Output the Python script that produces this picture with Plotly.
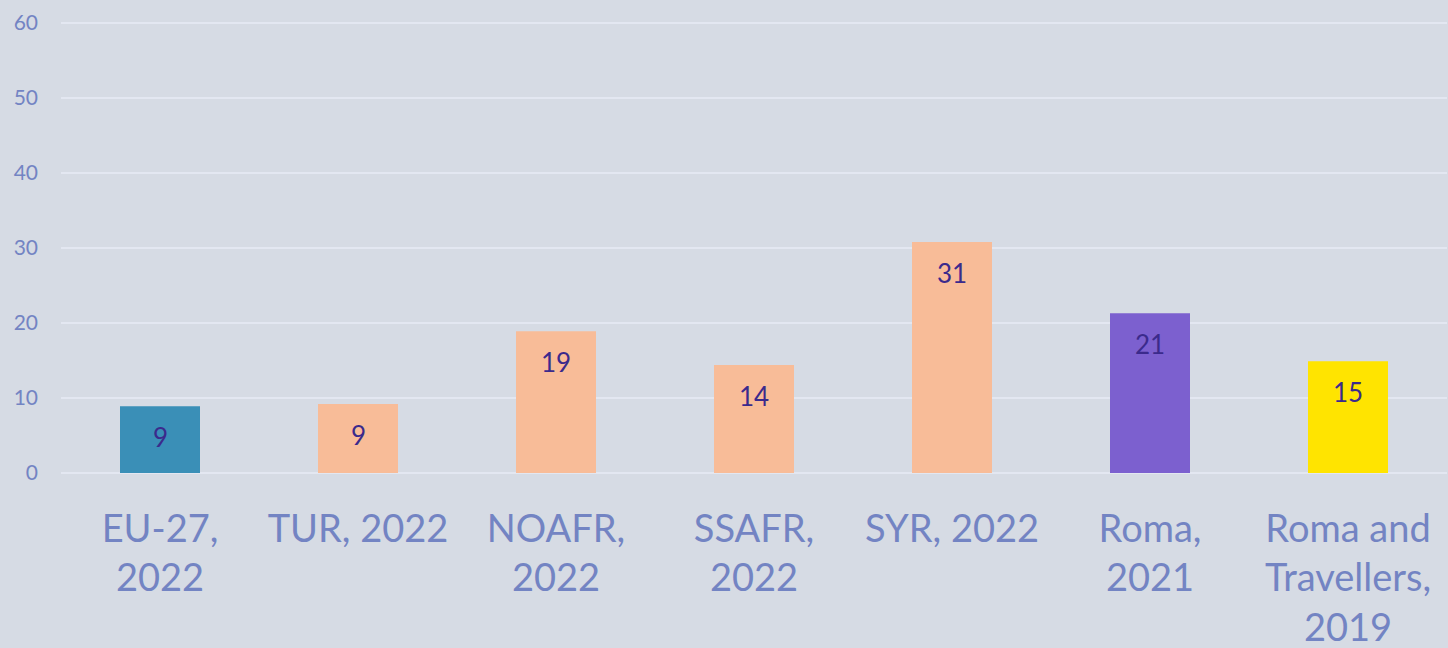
import plotly.graph_objects as go

categories = ["EU-27,<br>2022", "TUR, 2022", "NOAFR,<br>2022", "SSAFR,<br>2022",
              "SYR, 2022", "Roma,<br>2021", "Roma and<br>Travellers,<br>2019"]
values = [8.9, 9.2, 18.9, 14.4, 30.8, 21.3, 14.9]
bar_colors = ["#3a8fb7", "#f8bc98", "#f8bc98", "#f8bc98", "#f8bc98", "#7c60cf", "#ffe400"]
y_ticks = [0, 10, 20, 30, 40, 50, 60]

FONT = "Lato"
TICK_COLOR = "#7384c3"
LABEL_COLOR = "#3b2a8c"
BG = "#d6dbe4"
GRID = "#e3e7f1"

fig = go.Figure()
fig.add_trace(go.Bar(
    x=categories, y=values,
    marker=dict(color=bar_colors, line=dict(width=0)),
    hoverinfo="skip",
))

for c, v in zip(categories, values):
    fig.add_annotation(
        x=c, y=v, text=f"{v:.0f}", showarrow=False,
        yanchor="middle", yshift=-31,
        font=dict(family=FONT, size=26, color=LABEL_COLOR),
    )

fig.update_layout(
    width=1448, height=648,
    margin=dict(l=61, r=1, t=22, b=175, autoexpand=False),
    paper_bgcolor=BG, plot_bgcolor=BG,
    bargap=0.596,
    showlegend=False,
    font=dict(family=FONT),
    xaxis=dict(
        tickfont=dict(family=FONT, size=38, color=TICK_COLOR),
        showgrid=False, showline=False, zeroline=False,
        ticks="", ticklabelstandoff=30,
        tickangle=0, automargin=False,
    ),
    yaxis=dict(
        range=[0, 60.15], tickvals=y_ticks,
        tickfont=dict(family=FONT, size=21, color=TICK_COLOR),
        showgrid=True, gridcolor=GRID, gridwidth=2,
        zeroline=True, zerolinecolor=GRID, zerolinewidth=2,
        showline=False, ticks="", ticklabelstandoff=22,
        automargin=False,
    ),
)

fig.write_html("out.html")
